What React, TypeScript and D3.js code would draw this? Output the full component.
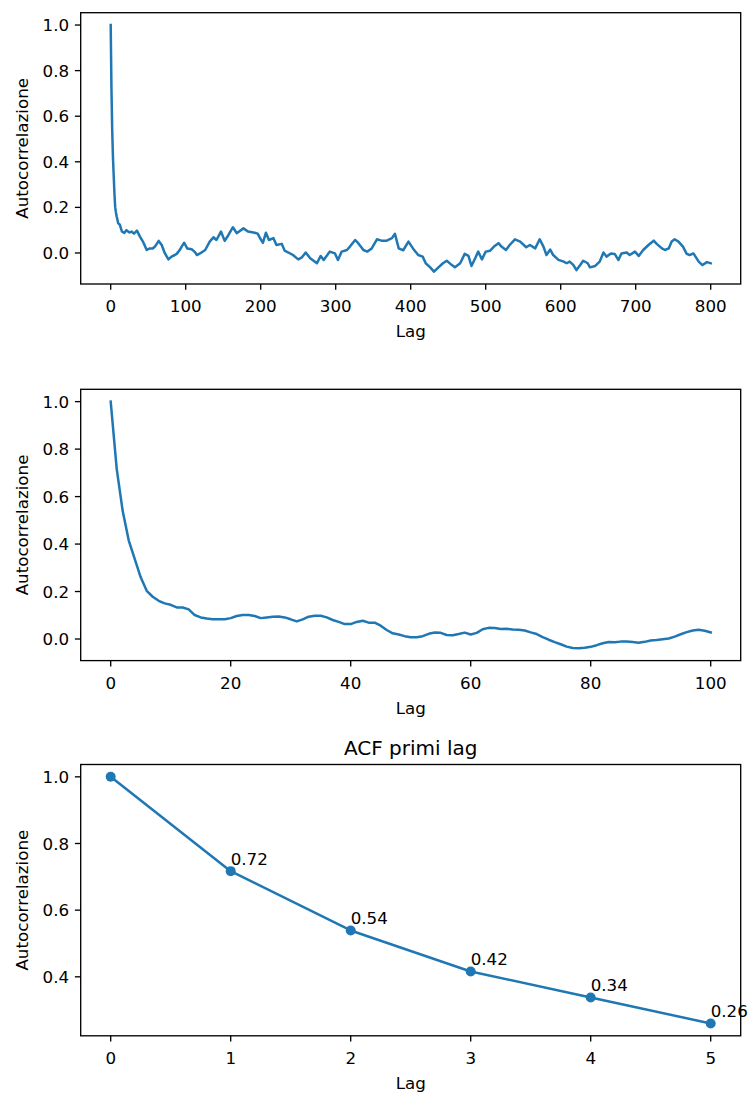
import React from "react";
import * as d3 from "d3";

// ---------- Data ----------
// Panel 1: ACF over all lags
const LAGS_FULL = [
  0, 1, 2, 3, 4, 5, 6, 7, 8, 10, 12, 15, 18, 21, 25, 28, 31, 35, 39, 43, 48, 52, 56, 59, 64, 68, 72, 77, 81, 85, 88, 92, 95, 98,
  102, 108, 112, 115, 119, 126, 132, 137, 141, 147, 152, 157, 163, 168, 177, 183, 192, 196, 200, 203, 207, 211, 217, 221, 228,
  232, 237, 243, 250, 255, 260, 266, 275, 280, 284, 292, 299, 303, 308, 315, 319, 326, 330, 337, 342, 348, 355, 361, 368, 375,
  379, 384, 390, 397, 403, 410, 416, 420, 426, 431, 437, 443, 448, 453, 459, 466, 472, 477, 481, 486, 490, 495, 500, 506, 512,
  517, 521, 527, 532, 539, 546, 554, 559, 566, 572, 577, 581, 586, 590, 597, 604, 608, 612, 617, 621, 626, 630, 636, 639, 646,
  652, 657, 661, 667, 672, 677, 681, 688, 692, 699, 704, 710, 717, 724, 728, 735, 739, 744, 748, 752, 757, 763, 768, 772, 777,
  784, 789, 795, 800,
];
const ACF_FULL = [
  1.0, 0.72, 0.54, 0.42, 0.34, 0.26, 0.2, 0.178, 0.16, 0.13, 0.125, 0.094, 0.088, 0.1, 0.09, 0.094, 0.085, 0.098, 0.072, 0.05,
  0.013, 0.02, 0.02, 0.028, 0.053, 0.035, 0.0, -0.028, -0.016, -0.01, -0.004, 0.013, 0.03, 0.045,
  0.02, 0.016, 0.005, -0.009, -0.002, 0.013, 0.05, 0.069, 0.057, 0.094, 0.053, 0.079, 0.113, 0.087, 0.108, 0.094, 0.089, 0.085,
  0.06, 0.045, 0.089, 0.057, 0.065, 0.035, 0.04,
  0.01, 0.002, -0.009, -0.028, -0.019, 0.002, -0.023, -0.045, -0.013, -0.031, 0.006, -0.002, -0.031, 0.006, 0.013, 0.028, 0.057,
  0.043, 0.013, 0.006, 0.02, 0.06, 0.054, 0.054, 0.065,
  0.084, 0.02, 0.012, 0.05, 0.02, -0.009, -0.016, -0.045, -0.063, -0.082, -0.063, -0.045, -0.034, -0.048, -0.063, -0.045, -0.004,
  -0.013, -0.057, -0.023, 0.006, -0.028, 0.006, 0.01, 0.031,
  0.043, 0.028, 0.013, 0.035, 0.06, 0.05, 0.025, 0.035, 0.02, 0.06, 0.028, -0.009, 0.015, -0.009, -0.03, -0.038, -0.045, -0.038,
  -0.053, -0.075, -0.053, -0.034, -0.045, -0.063, -0.057,
  -0.038, 0.002, -0.016, -0.002, -0.004, -0.031, -0.002, 0.002, -0.009, 0.006, -0.013, 0.013, 0.035, 0.054, 0.04, 0.02, 0.013,
  0.02, 0.05, 0.06, 0.05, 0.028, -0.004, -0.009, -0.002,
  -0.038, -0.053, -0.04, -0.045,
];

// Panel 2: ACF for lags 0..100
const ACF_100 = [
  1.0, 0.717, 0.539, 0.416, 0.338, 0.26, 0.203, 0.178, 0.161, 0.15, 0.144, 0.133, 0.133, 0.125, 0.101, 0.091, 0.086, 0.083, 0.083,
  0.083, 0.088, 0.097, 0.101, 0.101, 0.097, 0.088, 0.091, 0.094, 0.095, 0.091, 0.083, 0.074, 0.083, 0.094, 0.098, 0.098, 0.091,
  0.08, 0.072, 0.063, 0.063, 0.072, 0.077, 0.069, 0.069, 0.056, 0.038, 0.024, 0.019, 0.012, 0.007, 0.007, 0.012, 0.022, 0.027,
  0.026, 0.017, 0.016, 0.021, 0.027, 0.019, 0.026, 0.041, 0.047, 0.046, 0.042, 0.043, 0.04, 0.039, 0.036, 0.028, 0.021, 0.008,
  -0.003, -0.013, -0.022, -0.032, -0.038, -0.039, -0.037, -0.033, -0.026, -0.018, -0.013, -0.014, -0.011, -0.01, -0.013, -0.016,
  -0.012, -0.006, -0.004, -0.001, 0.002, 0.01, 0.02, 0.029, 0.036, 0.039, 0.035, 0.028,
];
const LAGS_100 = ACF_100.map((_, i) => i);

// Panel 3: first lags
const LAGS_FIRST = [0, 1, 2, 3, 4, 5];
const ACF_FIRST = [1.0, 0.717, 0.539, 0.416, 0.338, 0.26];

// Tick labels
const XTICKS_1 = [0, 100, 200, 300, 400, 500, 600, 700, 800];
const XTICKS_2 = [0, 20, 40, 60, 80, 100];
const XTICKS_3 = [0, 1, 2, 3, 4, 5];
const YTICKS_12 = [0.0, 0.2, 0.4, 0.6, 0.8, 1.0];
const YTICKS_3 = [0.4, 0.6, 0.8, 1.0];

const TITLE_3 = "ACF primi lag";
const X_LABEL = "Lag";
const Y_LABEL = "Autocorrelazione";

// ---------- Styles ----------
const BLUE = "#1f77b4";
const FONT = "DejaVu Sans, sans-serif";
const FS = 16.7;
const LEFT = 80.7;
const WIDTH = 660;
const HEIGHT = 271.3;
const TICK = 5.8;

function padded(ext: [number, number]): [number, number] {
  const m = (ext[1] - ext[0]) * 0.05;
  return [ext[0] - m, ext[1] + m];
}

type PanelProps = {
  top: number;
  xs: number[];
  ys: number[];
  xticks: number[];
  yticks: number[];
  xfmt: (v: number) => string;
  markers?: boolean;
  title?: string;
};

function Panel({ top, xs, ys, xticks, yticks, xfmt, markers, title }: PanelProps) {
  const x = d3.scaleLinear().domain(padded(d3.extent(xs) as [number, number])).range([LEFT, LEFT + WIDTH]);
  const y = d3.scaleLinear().domain(padded(d3.extent(ys) as [number, number])).range([top + HEIGHT, top]);
  const pts = xs.map((v, i) => [v, ys[i]] as [number, number]);
  const line = d3
    .line<[number, number]>()
    .x((d) => x(d[0]))
    .y((d) => y(d[1]));
  const bottom = top + HEIGHT;
  const fmtY = d3.format(".1f");
  return (
    <g>
      <path d={line(pts) || ""} fill="none" stroke={BLUE} strokeWidth={2.5} strokeLinejoin="round" strokeLinecap="square" />
      {markers &&
        pts.map((d, i) => <circle key={"m" + i} cx={x(d[0])} cy={y(d[1])} r={5} fill={BLUE} />)}
      {markers &&
        pts.slice(1).map((d, i) => (
          <text key={"a" + i} x={x(d[0])} y={y(d[1]) - 6.5} fontSize={FS} fontFamily={FONT} fill="#000">
            {d[1].toFixed(2)}
          </text>
        ))}
      <rect x={LEFT} y={top} width={WIDTH} height={HEIGHT} fill="none" stroke="#000" strokeWidth={1.33} />
      {xticks.map((t) => (
        <g key={"x" + t}>
          <line x1={x(t)} x2={x(t)} y1={bottom} y2={bottom + TICK} stroke="#000" strokeWidth={1.33} />
          <text x={x(t)} y={bottom + 28} textAnchor="middle" fontSize={FS} fontFamily={FONT} fill="#000">
            {xfmt(t)}
          </text>
        </g>
      ))}
      {yticks.map((t) => (
        <g key={"y" + t}>
          <line x1={LEFT - TICK} x2={LEFT} y1={y(t)} y2={y(t)} stroke="#000" strokeWidth={1.33} />
          <text x={LEFT - TICK - 5.8} y={y(t) + 6.1} textAnchor="end" fontSize={FS} fontFamily={FONT} fill="#000">
            {fmtY(t)}
          </text>
        </g>
      ))}
      <text x={LEFT + WIDTH / 2} y={bottom + 53} textAnchor="middle" fontSize={FS} fontFamily={FONT} fill="#000">
        {X_LABEL}
      </text>
      <text
        transform={`translate(28.3, ${top + HEIGHT / 2}) rotate(-90)`}
        textAnchor="middle"
        fontSize={FS}
        fontFamily={FONT}
        fill="#000"
      >
        {Y_LABEL}
      </text>
      {title && (
        <text x={LEFT + WIDTH / 2} y={top - 10} textAnchor="middle" fontSize={20} fontFamily={FONT} fill="#000">
          {title}
        </text>
      )}
    </g>
  );
}

export default function App() {
  const fmtInt = d3.format("d");
  return (
    <svg
      width={752}
      height={1095}
      style={{ position: "absolute", left: 0, top: 0, background: "#fff" }}
      xmlns="http://www.w3.org/2000/svg"
    >
      <rect width={752} height={1095} fill="#fff" />
      <Panel top={12.7} xs={LAGS_FULL} ys={ACF_FULL} xticks={XTICKS_1} yticks={YTICKS_12} xfmt={fmtInt} />
      <Panel top={389.3} xs={LAGS_100} ys={ACF_100} xticks={XTICKS_2} yticks={YTICKS_12} xfmt={fmtInt} />
      <Panel
        top={764.5}
        xs={LAGS_FIRST}
        ys={ACF_FIRST}
        xticks={XTICKS_3}
        yticks={YTICKS_3}
        xfmt={fmtInt}
        markers
        title={TITLE_3}
      />
    </svg>
  );
}
